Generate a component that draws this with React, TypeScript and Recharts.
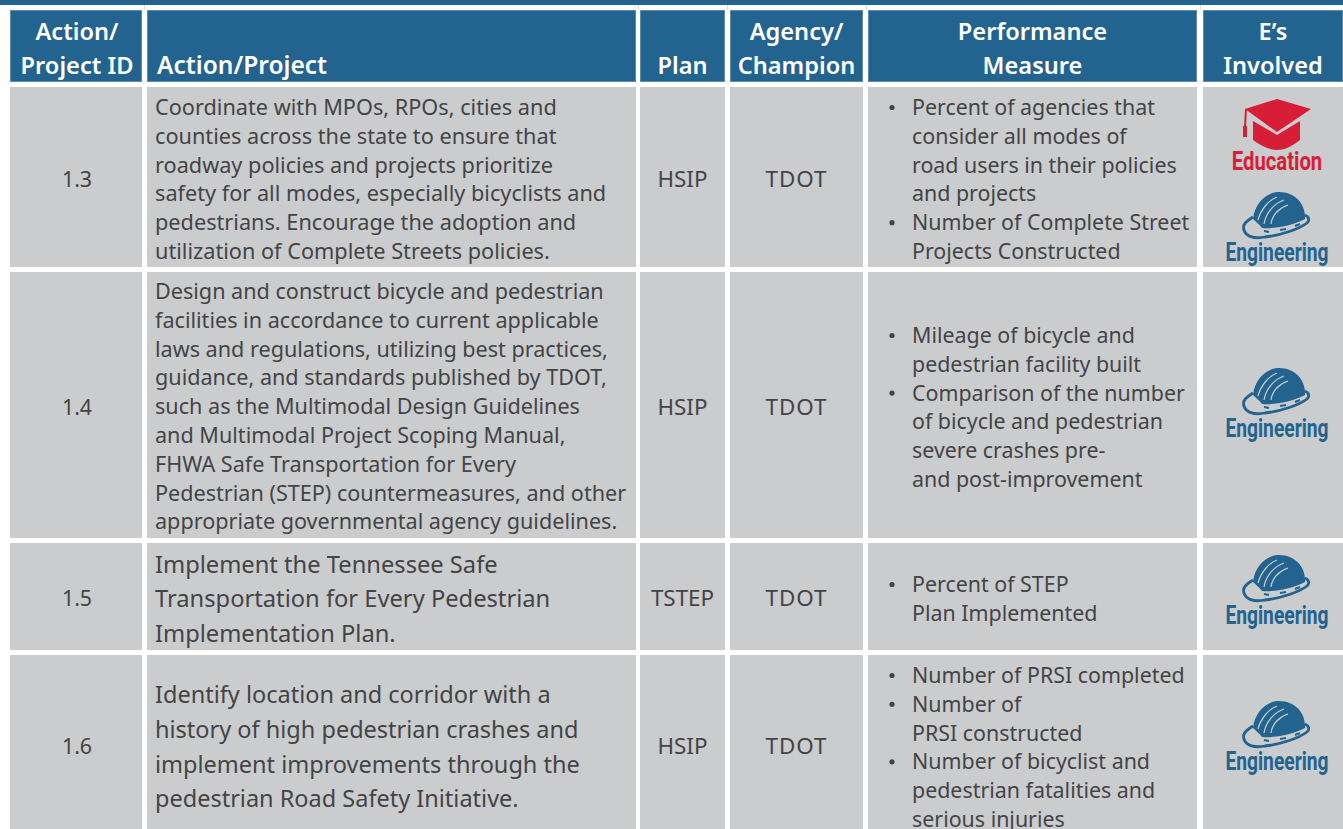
import { ComposedChart, ReferenceArea, XAxis, YAxis } from 'recharts';

const headers = [
  ['Action/', 'Project ID'],
  ['Action/Project'],
  ['Plan'],
  ['Agency/', 'Champion'],
  ['Performance', 'Measure'],
  ['E’s', 'Involved'],
];

const rowIds = ['1.3', '1.4', '1.5', '1.6'];
const plans = ['HSIP', 'HSIP', 'TSTEP', 'HSIP'];
const agencies = ['TDOT', 'TDOT', 'TDOT', 'TDOT'];

const actions = [
  [
    'Coordinate with MPOs, RPOs, cities and',
    'counties across the state to ensure that',
    'roadway policies and projects prioritize',
    'safety for all modes, especially bicyclists and',
    'pedestrians. Encourage the adoption and',
    'utilization of Complete Streets policies.',
  ],
  [
    'Design and construct bicycle and pedestrian',
    'facilities in accordance to current applicable',
    'laws and regulations, utilizing best practices,',
    'guidance, and standards published by TDOT,',
    'such as the Multimodal Design Guidelines',
    'and Multimodal Project Scoping Manual,',
    'FHWA Safe Transportation for Every',
    'Pedestrian (STEP) countermeasures, and other',
    'appropriate governmental agency guidelines.',
  ],
  [
    'Implement the Tennessee Safe',
    'Transportation for Every Pedestrian',
    'Implementation Plan.',
  ],
  [
    'Identify location and corridor with a',
    'history of high pedestrian crashes and',
    'implement improvements through the',
    'pedestrian Road Safety Initiative.',
  ],
];

const measures = [
  [
    ['Percent of agencies that', 'consider all modes of', 'road users in their policies', 'and projects'],
    ['Number of Complete Street', 'Projects Constructed'],
  ],
  [
    ['Mileage of bicycle and', 'pedestrian facility built'],
    ['Comparison of the number', 'of bicycle and pedestrian', 'severe crashes pre-', 'and post-improvement'],
  ],
  [['Percent of STEP', 'Plan Implemented']],
  [
    ['Number of PRSI completed'],
    ['Number of', 'PRSI constructed'],
    ['Number of bicyclist and', 'pedestrian fatalities and', 'serious injuries'],
  ],
];

const involved = [['Education', 'Engineering'], ['Engineering'], ['Engineering'], ['Engineering']];

// table frame, in the chart's axis units
const colEdges = [[10, 142], [147, 636], [640, 725], [730, 863], [868, 1197], [1203, 1343]];
const headerEdge = [10, 82];
const rowEdges = [[87, 267], [272, 538], [543, 650], [655, 829]];
const gapMarks = [144, 638, 727, 866, 1200];
const rowCenters = [179.5, 407.5, 598.5, 746.5];
const actionTop = [107.5, 291.5, 564.5, 694.5];
const actionStep = [28.8, 28.8, 34.4, 34.9];
const actionSize = [21.7, 21.6, 23.7, 23.5];
const measureTop = [107.5, 335.5, 584.5, 675.5];
const iconSpots = [[161, 252], [428], [615], [761]];

const BLUE = '#23638f';
const GREY = '#cbccce';
const INK = '#434446';
const RED = '#d81e36';
const FONT = '"Noto Sans", sans-serif';
const NARROW = 'Roboto, sans-serif';

type CellProps = { x?: number; y?: number; width?: number; height?: number };

function Line({ x, y, text, size = 21.4, anchor = 'start', fill = INK, weight = 400, spacing = 0 }: any) {
  return (
    <text x={x} y={y} dy="0.35em" fontFamily={FONT} fontSize={size} fontWeight={weight} fill={fill} textAnchor={anchor} letterSpacing={spacing}>
      {text}
    </text>
  );
}

function Cap({ y }: { y: number }) {
  return (
    <g transform={`translate(1277 ${y})`}>
      <path d="M0,-62 L34,-52 L0,-29 L-32,-52 Z" fill={RED} />
      <path d="M-24,-40 L0,-26 L23,-40 L23,-21 C14,-14 7,-11 0,-11 C-7,-11 -16,-15 -24,-21 Z" fill={RED} />
      <path d="M-31,-52 L-32,-34" stroke={RED} strokeWidth={2} fill="none" />
      <path d="M-34,-35 L-30,-35 L-30,-24 L-34,-24 Z" fill={RED} />
      <g transform="scale(0.78 1)">
        <text x={0} y={0} dy="0.36em" fontFamily={NARROW} fontWeight={700} fontSize={26} fill={RED} textAnchor="middle">
          Education
        </text>
      </g>
    </g>
  );
}

function Hat({ y }: { y: number }) {
  return (
    <g transform={`translate(1277 ${y})`}>
      <path d="M-24,-35 C-30,-31 -35,-28 -33,-22 C-31,-15 -22,-13 -12,-15 C5,-17 22,-23 30,-29 C33,-32 32,-35 28,-37" fill="none" stroke={BLUE} strokeWidth={2.8} />
      <path d="M-24,-33 C-22,-50 -10,-60 2,-60 C18,-60 29,-48 28,-33 C14,-26 -4,-23 -15,-24 C-18,-28 -21,-30 -24,-33 Z" fill={BLUE} />
      <path d="M-19,-32 C-16,-43 -8,-52 0,-55 M-13,-28 C-11,-40 -2,-49 7,-52 M-6,-28 C-5,-37 2,-44 11,-47" fill="none" stroke={GREY} strokeWidth={1.2} />
      <path d="M-13,-21 L-8,-20 M3,-22 L9,-23 M18,-26 L23,-28" fill="none" stroke={BLUE} strokeWidth={2} />
      <g transform="scale(0.74 1)">
        <text x={0} y={0} dy="0.36em" fontFamily={NARROW} fontWeight={700} fontSize={26} fill={BLUE} textAnchor="middle">
          Engineering
        </text>
      </g>
    </g>
  );
}

const headerText = (col: number, x: number, w: number) => {
  const lines = headers[col];
  const left = col === 1;
  return lines.map((t, i) => (
    <Line
      key={t}
      x={left ? x + 10 : x + w / 2 + (col === 0 ? 1 : 0)}
      y={lines.length === 1 ? 65.5 : 31.5 + i * 34}
      text={t}
      size={left ? 24.5 : 23.6}
      anchor={left ? 'start' : 'middle'}
      fill="#ffffff"
      weight={600}
    />
  ));
};

function bodyText(row: number, col: number, x: number, w: number) {
  const mid = x + w / 2;
  if (col === 0) return <Line x={mid + 1} y={rowCenters[row]} text={rowIds[row]} anchor="middle" size={21.4} />;
  if (col === 2) return <Line x={mid} y={rowCenters[row]} text={plans[row]} anchor="middle" size={22.4} />;
  if (col === 3) return <Line x={mid} y={rowCenters[row]} text={agencies[row]} anchor="middle" size={22.4} spacing={1} />;
  if (col === 1) {
    return actions[row].map((t, i) => (
      <Line key={t} x={155} y={actionTop[row] + i * actionStep[row]} text={t} size={actionSize[row]} />
    ));
  }
  if (col === 4) {
    let n = 0;
    return measures[row].map((group) =>
      group.map((t, i) => {
        const y = measureTop[row] + n * 28.8;
        n += 1;
        return (
          <g key={t}>
            {i === 0 && <circle cx={892} cy={y} r={2.6} fill={INK} />}
            <Line x={912} y={y} text={t} />
          </g>
        );
      }),
    );
  }
  return involved[row].map((name, i) =>
    name === 'Education' ? <Cap key={name} y={iconSpots[row][i]} /> : <Hat key={name} y={iconSpots[row][i]} />,
  );
}

function cellShape(fill: string, draw: (x: number, w: number) => any, edge?: string) {
  return ({ x = 0, y = 0, width = 0, height = 0 }: CellProps) => (
    <g>
      <rect x={x + 0.5} y={y + 0.5} width={width - 1} height={height - 1} fill={fill} stroke={edge ?? fill} strokeWidth={1} />
      {draw(x, width)}
    </g>
  );
}

export default function App() {
  return (
    <div style={{ position: 'absolute', left: 0, top: 0, width: 1343, height: 829, background: '#fff' }}>
      <ComposedChart width={1343} height={829} data={[]} margin={{ top: 0, right: 0, bottom: 0, left: 0 }}>
        <XAxis type="number" dataKey="x" domain={[0, 1343]} hide allowDataOverflow />
        <YAxis type="number" dataKey="y" domain={[0, 829]} reversed hide allowDataOverflow />
        <ReferenceArea x1={0} x2={1343} y1={0} y2={5} fill={BLUE} fillOpacity={1} />
        {gapMarks.map((x) => (
          <ReferenceArea key={`g${x}`} x1={x} x2={x + 1} y1={5} y2={10} fill="#d5e2ec" fillOpacity={1} />
        ))}
        {colEdges.map(([x1, x2], col) => (
          <ReferenceArea
            key={`h${col}`}
            x1={x1}
            x2={x2}
            y1={headerEdge[0]}
            y2={headerEdge[1]}
            shape={cellShape(BLUE, (x, w) => headerText(col, x, w), '#5f8cad')}
          />
        ))}
        {rowEdges.map(([y1, y2], row) =>
          colEdges.map(([x1, x2], col) => (
            <ReferenceArea
              key={`c${row}-${col}`}
              x1={x1}
              x2={x2}
              y1={y1}
              y2={y2}
              shape={cellShape(GREY, (x, w) => bodyText(row, col, x, w))}
            />
          )),
        )}
      </ComposedChart>
    </div>
  );
}
